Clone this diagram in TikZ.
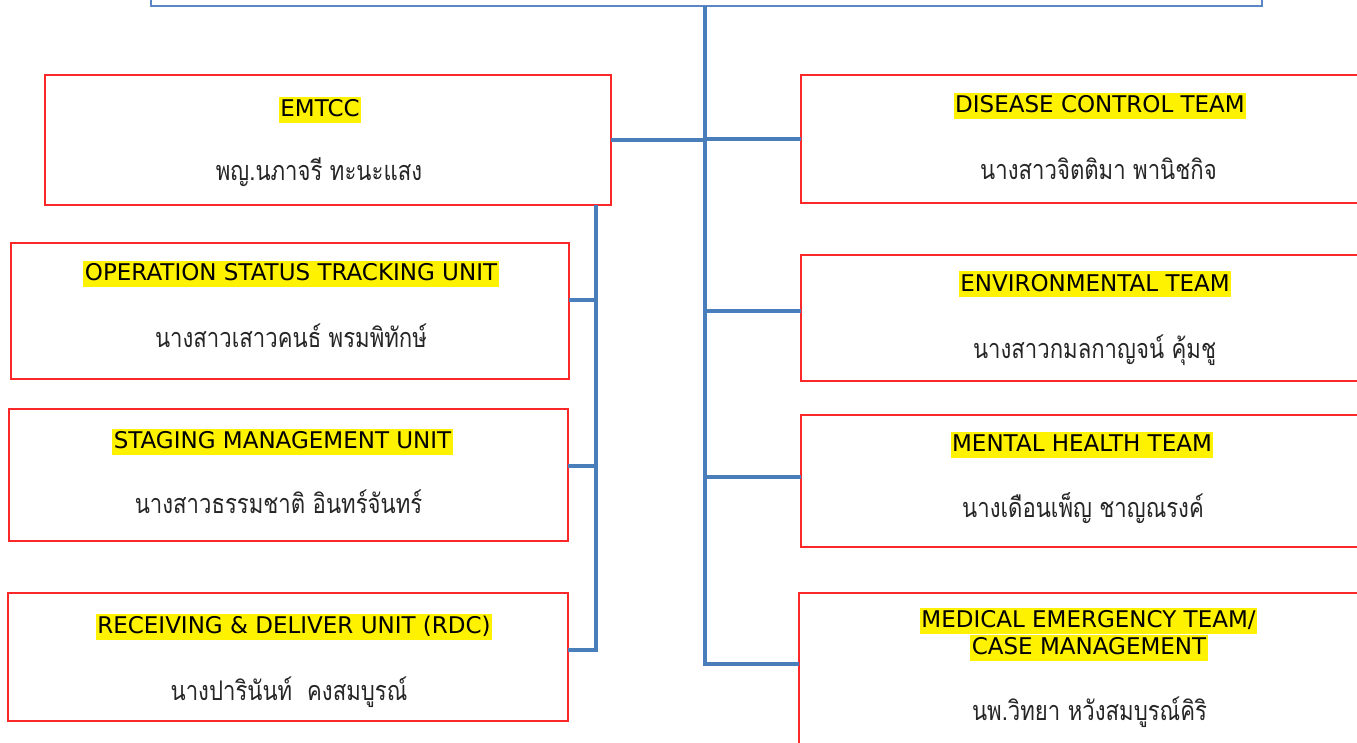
\documentclass[tikz,border=0pt]{standalone}
\usepackage{fontspec}
\setmainfont{DejaVu Sans}
\newfontfamily\thaifont[Script=Thai, FakeStretch=0.82]{Loma}
\definecolor{linkblue}{RGB}{74,126,187}
\definecolor{topblue}{RGB}{91,135,197}
\definecolor{boxred}{RGB}{250,40,40}
\begin{document}
\begin{tikzpicture}[x=1pt,y=-1pt,
  redbox/.style={draw=boxred, line width=1.4pt, fill=white, inner sep=0pt, outer sep=0pt, anchor=north west},
  topbox/.style={draw=topblue, line width=1.4pt, fill=white, inner sep=0pt, outer sep=0pt, anchor=north west},
  conn/.style={draw=linkblue, line width=3.5pt},
  hl/.style={fill=yellow, inner xsep=1.5pt, inner ysep=0pt, text height=19.5pt, text depth=6.5pt, font=\fontsize{23}{27}\selectfont},
  thai/.style={anchor=base, inner sep=0pt, text=black!85, font=\thaifont\fontsize{27}{30}\selectfont}
]
\useasboundingbox (0,0) rectangle (1357,743);
% top box (cut off by page edge)
\node[topbox, minimum width=1111pt, minimum height=40pt] (top) at (151,-34) {};
% boxes
\node[redbox, minimum width=566pt, minimum height=130pt] (emtcc) at (45,75) {};
\node[redbox, minimum width=558pt, minimum height=136pt] (ostu) at (11,243) {};
\node[redbox, minimum width=559pt, minimum height=132pt] (stag) at (9,409) {};
\node[redbox, minimum width=560pt, minimum height=128pt] (rdc) at (8,593) {};
\node[redbox, minimum width=580pt, minimum height=128pt] (dis) at (801,75) {};
\node[redbox, minimum width=580pt, minimum height=126pt] (env) at (801,255) {};
\node[redbox, minimum width=580pt, minimum height=132pt] (men) at (801,415) {};
\node[redbox, minimum width=582pt, minimum height=170pt] (med) at (799,593) {};
% connectors
\coordinate (mtop) at (705,6);
\coordinate (mbot) at (705,664);
\coordinate (ltop) at (596,205);
\coordinate (lbot) at (596,650);
\coordinate (jo) at (596,300);
\coordinate (js) at (596,466);
\coordinate (je) at (705,311);
\coordinate (jm) at (705,477);
\draw[conn] (mtop) -- (mbot) -- (mbot -| med.west);
\draw[conn] (emtcc.east) -- (emtcc.east -| mtop);
\draw[conn] (mtop |- dis.west) -- (dis.west);
\draw[conn] (je) -- (je -| env.west);
\draw[conn] (jm) -- (jm -| men.west);
\draw[conn] (ltop) -- (lbot) -- (lbot -| rdc.east);
\draw[conn] (jo) -- (jo -| ostu.east);
\draw[conn] (js) -- (js -| stag.east);
% titles
\node[hl] (emtccT) at (320,110.5) {EMTCC};
\node[hl] (ostuT) at (291,274.5) {OPERATION STATUS TRACKING UNIT};
\node[hl] (stagT) at (282.5,441.5) {STAGING MANAGEMENT UNIT};
\node[hl] (rdcT) at (294,627) {RECEIVING \& DELIVER UNIT (RDC)};
\node[hl] (disT) at (1100,106) {DISEASE CONTROL TEAM};
\node[hl] (envT) at (1095,284.5) {ENVIRONMENTAL TEAM};
\node[hl] (menT) at (1082,444.5) {MENTAL HEALTH TEAM};
\node[hl] (medT1) at (1088.5,621) {MEDICAL EMERGENCY TEAM/};
\node[hl] (medT2) at (1089,648) {CASE MANAGEMENT};
% names
\node[thai] (emtccN) at (319,181) {พญ.นภาจรี ทะนะแสง};
\node[thai] (ostuN) at (291,347) {นางสาวเสาวคนธ์ พรมพิทักษ์};
\node[thai] (stagN) at (278.5,513) {นางสาวธรรมชาติ อินทร์จันทร์};
\node[thai] (rdcN) at (289,700) {นางปารินันท์~~คงสมบูรณ์};
\node[thai] (disN) at (1098.5,180) {นางสาวจิตติมา พานิชกิจ};
\node[thai] (envN) at (1094.5,358) {นางสาวกมลกาญจน์ คุ้มชู};
\node[thai] (menN) at (1083,517) {นางเดือนเพ็ญ ชาญณรงค์};
\node[thai] (medN) at (1089.5,720) {นพ.วิทยา หวังสมบูรณ์คิริ};
\end{tikzpicture}
\end{document}
